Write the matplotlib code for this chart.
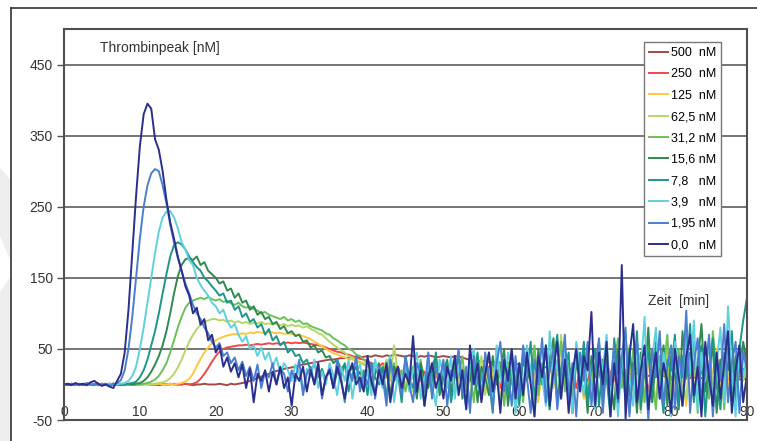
import numpy as np
import matplotlib
matplotlib.use('Agg')
import matplotlib.pyplot as plt
from matplotlib.lines import Line2D
from matplotlib.patches import Polygon

plt.rcParams['font.family'] = ['Liberation Sans', 'DejaVu Sans']
plt.rcParams['axes.unicode_minus'] = False

# sampling interval of the curves, minutes
time_step = 0.5

labels = ['500  nM', '250  nM', '125  nM', '62,5 nM', '31,2 nM',
          '15,6 nM', '7,8   nM', '3,9   nM', '1,95 nM', '0,0   nM']
colors = ['#a24a48', '#f04848', '#ffc640', '#b4d866', '#6cc05a',
          '#2e8a4e', '#1d968a', '#5fd0de', '#4a7ed0', '#2a2e8c']

# thrombin [nM], one value every 0.5 min from 0 to 90 min
n500 = [0, 0, 0, 1, 0, 0, -1, 0, 0, 1, 0, 0, 0, 1, 0, 0, -1, 0, 0, 1,
        0, 0, 1, 0, 0, -1, 0, 0, 1, 0, 0, 0, 1, 0, -1, 0, 0, 1, 0, 0,
        0, 1, 0, -1, 1, 0, 1, 2, 3, 5, 7, 9, 11, 13, 15, 17, 19, 20, 22, 23,
        24, 25, 27, 28, 29, 30, 31, 32, 33, 34, 35, 35, 36, 37, 37, 38, 38, 39, 38, 39,
        40, 39, 41, 40, 39, 41, 40, 42, 41, 40, 39, 41, 40, 38, 40, 39, 41, 40, 38, 39,
        40, 39, 38, 40, 39, 38, 36, 35, 33, 34, 32, 33, 31, 32, 30, 31, 29, 30, 28, 29,
        28, 27, 28, 26, 27, 25, 26, 24, 25, 23, 24, 22, 23, 22, 21, 22, 20, 21, 20, 19,
        20, 18, 19, 17, 18, 16, 17, 15, 16, 15, 14, 15, 13, 14, 12, 13, 12, 11, 12, 10,
        11, 10, 9, 10, 8, 9, 10, 8, 9, 7, 8, 9, 7, 8, 6, 7, 8, 6, 7, 8,
        7]
n250 = [0, 0, 1, 0, -1, 0, 0, 1, 0, 0, -1, 0, 1, 0, 0, 0, 1, 0, 0, -1,
        0, 1, 0, 0, -1, 0, 1, 0, 0, 1, 0, 0, 1, 0, 1, 3, 8, 15, 23, 32,
        40, 46, 50, 52, 53, 54, 55, 55, 56, 55, 56, 57, 56, 57, 58, 57, 58, 57, 58, 59,
        58, 59, 58, 59, 58, 57, 56, 55, 54, 52, 50, 48, 46, 45, 43, 42, 40, 38, 36, 35,
        33, 30, 28, 25, 30, 20, 22, 15, 25, 12, 18, 8, 20, 15, 5, 18, 10, 22, 12, 5,
        15, 20, 8, 18, 25, 5, 15, 10, 22, 0, 18, 12, 25, 5, 15, -5, 20, 10, 25, 8,
        18, 0, 22, 12, 30, 5, 15, -10, 25, 10, 20, 0, 28, 8, 15, -5, 22, 12, 5, 25,
        10, 20, -8, 25, 15, 5, 30, 10, 0, 20, 15, 28, 2, 18, -10, 25, 12, 8, 22, 15,
        5, 25, 15, -5, 20, 10, 30, 0, 18, 12, 25, 8, -5, 20, 15, 28, 5, 18, 10, 22,
        15]
n125 = [0, 0, 0, 1, 0, 0, -1, 0, 0, 1, 0, 0, 1, 0, 0, -1, 0, 0, 1, 0,
        0, 0, 1, 0, 0, 1, 0, 0, 1, 0, 1, 2, 4, 8, 15, 26, 36, 45, 52, 58,
        62, 65, 67, 69, 70, 71, 70, 72, 71, 73, 72, 74, 73, 72, 74, 73, 72, 73, 71, 72,
        71, 70, 70, 68, 66, 64, 60, 57, 54, 50, 47, 44, 42, 40, 38, 36, 35, 33, 32, 30,
        28, 25, 20, 15, 22, 10, 18, 5, 20, 12, 0, 15, 25, 5, 10, -5, 18, 8, 20, 0,
        10, 25, -5, 15, 5, 20, -10, 30, 10, 0, 15, 35, -15, 20, 5, 25, -20, 10, 30, 0,
        20, -10, 35, 5, 15, -25, 25, 10, 40, -5, 20, 0, 30, -15, 15, 45, 5, -20, 25, 10,
        -10, 30, 15, 40, -20, 20, 5, 35, -30, 25, 10, 45, 0, -25, 30, 15, 40, -10, 20, 5,
        30, -15, 45, 10, -30, 35, 20, 0, 40, -20, 25, 15, 50, -10, 30, 5, -25, 35, 20, 10,
        15]
n625 = [0, 0, 1, 0, 0, -1, 0, 1, 0, 0, 1, 0, -1, 0, 0, 1, 0, 0, 1, 0,
        0, 1, 0, 1, 1, 2, 3, 5, 9, 15, 24, 35, 48, 60, 70, 78, 84, 88, 90, 92,
        92, 90, 91, 88, 90, 87, 89, 86, 88, 85, 87, 86, 88, 85, 86, 84, 86, 83, 85, 82,
        84, 82, 83, 80, 82, 78, 76, 72, 70, 65, 60, 56, 52, 48, 45, 40, 38, 35, 30, 28,
        25, 18, 30, 10, 20, 35, 5, 55, 15, 0, 25, 10, -10, 30, 15, 5, 20, -15, 25, 10,
        0, 20, 35, -10, 15, 25, 5, -20, 30, 10, 40, -15, 20, 5, 35, -25, 15, 25, 0, 30,
        10, -20, 35, 15, 45, -10, 25, 0, 30, 50, -30, 70, 10, 20, -15, 40, 5, 25, -25, 35,
        15, 50, -20, 30, 10, -35, 45, 20, 0, 55, -10, 30, -40, 25, 45, 5, -20, 35, 15, 50,
        -30, 25, 40, 5, -20, 45, 15, 30, -35, 20, 55, 0, 25, -25, 40, 10, 30, -15, 50, 5,
        25]
n312 = [0, 1, 0, 0, -1, 0, 1, 0, -1, 0, 1, 0, 0, 1, -1, 0, 1, 0, 0, 1,
        0, 1, 2, 4, 7, 12, 20, 30, 45, 62, 80, 95, 108, 115, 118, 120, 122, 120, 123, 120,
        118, 120, 116, 118, 114, 112, 115, 110, 108, 110, 106, 104, 100, 102, 98, 96, 94, 92, 95, 90,
        92, 88, 90, 85, 86, 82, 80, 78, 76, 72, 70, 65, 62, 58, 55, 50, 48, 42, 40, 35,
        30, 28, 22, 15, 25, 10, 18, 30, 5, 20, -10, 15, 25, 0, 35, -15, 20, 10, 30, -5,
        15, 25, -20, 30, 10, 40, -10, 20, -25, 35, 5, 25, 45, -15, 10, 30, -30, 20, 50, 0,
        25, -25, 40, 10, 55, -15, 30, 5, -35, 45, 20, 60, -10, 30, -40, 40, 15, 50, -20, 25,
        -30, 45, 10, 55, -20, 30, 65, -5, 20, -40, 50, 15, 35, -25, 60, 5, -35, 40, 20, 70,
        -15, 35, 50, -30, 25, 10, 60, -40, 45, 20, -20, 75, 10, 35, -35, 50, 15, -25, 40, 55,
        20]
n156 = [0, 0, 1, 0, -1, 0, 1, 0, 0, -1, 1, 0, 0, 1, 0, -1, 0, 1, 0, 1,
        2, 5, 10, 18, 28, 40, 55, 75, 100, 128, 152, 168, 176, 178, 175, 180, 168, 172, 160, 155,
        150, 142, 145, 132, 135, 122, 128, 115, 118, 105, 110, 98, 102, 92, 95, 85, 88, 78, 82, 72,
        75, 68, 70, 60, 62, 52, 55, 45, 48, 38, 40, 30, 35, 22, 28, 15, 25, 8, 18, 5,
        20, -5, 15, 30, 0, 20, -15, 25, 10, -10, 35, 5, 15, -20, 30, 10, -5, 25, 40, -15,
        10, 30, -10, 20, 45, -20, 15, 5, 35, -25, 25, 10, -15, 40, 0, 20, 50, -30, 15, 30,
        -20, 40, 5, 25, -35, 50, 10, -10, 35, 65, -25, 20, 45, 0, -30, 55, 15, 30, -40, 40,
        10, 60, -20, 35, 5, -35, 50, 20, 70, -15, 30, -40, 45, 10, 80, -25, 35, 0, 55, -30,
        40, 15, -35, 75, 10, 45, -20, 30, 85, -10, 20, 55, -40, 35, 10, 65, -25, 40, 15, 60,
        30]
n78 = [0, -1, 0, 1, 0, -1, 1, 0, 0, 1, -1, 0, 1, 0, -1, 1, 0, 1, 2, 4,
       10, 20, 35, 55, 75, 100, 128, 155, 180, 196, 200, 197, 190, 180, 172, 165, 160, 150, 145, 138,
       132, 125, 128, 115, 118, 105, 110, 95, 100, 88, 92, 80, 85, 70, 78, 62, 68, 55, 60, 45,
       50, 40, 42, 30, 35, 20, 28, 10, 22, 5, 25, -5, 18, 10, 30, -10, 15, 25, 0, 20,
       -15, 30, 10, 0, 25, -20, 35, 5, 15, -25, 40, 10, -5, 30, 20, -30, 25, 0, 45, -10,
       20, 35, -25, 10, 40, 0, -30, 25, 15, 45, -20, 30, 5, -40, 50, 10, 25, -15, 35, 0,
       -30, 45, 15, 60, -20, 25, 0, 55, -35, 30, 70, -10, 20, 45, -40, 35, 5, 60, -25, 20,
       50, -30, 35, 10, -45, 65, 15, 30, -20, 50, 0, 75, -35, 25, 45, -15, 60, 5, -40, 35,
       20, 70, -30, 40, 10, 85, -25, 30, 55, -45, 25, 65, 0, -35, 45, 20, 75, -30, 50, 90,
       122]
n39 = [0, 1, 0, -1, 0, 1, 0, 1, -1, 0, 1, 0, 1, -1, 0, 1, 2, 5, 12, 25,
       50, 80, 115, 150, 185, 215, 235, 243, 244, 235, 220, 200, 190, 175, 168, 150, 140, 132, 125, 115,
       110, 100, 105, 90, 80, 85, 70, 60, 68, 50, 55, 40, 52, 35, 45, 25, 38, 15, 30, 20,
       5, 28, 15, -10, 22, 10, 35, -5, 18, 0, 30, 12, -15, 25, 5, 35, -20, 15, 28, 0,
       20, -15, 35, 10, -5, 25, 40, -25, 15, 5, 30, -10, 20, 45, -20, 10, 25, 0, -30, 35,
       15, -5, 40, -20, 25, 10, -35, 30, 50, 0, -15, 35, 15, -25, 55, 10, -10, 45, 20, -40,
       30, -5, 55, 20, -45, 40, 10, -30, 75, 0, 35, -20, 50, 15, -40, 60, 25, -15, 45, 5,
       -35, 50, 20, 70, -25, 40, -45, 30, 65, 10, -30, 55, 20, 95, -40, 35, 80, -20, 45, 10,
       -45, 60, 25, -30, 70, 15, 90, -35, 45, 5, 65, -40, 30, 80, -25, 110, 20, -45, 55, 10,
       40]
n195 = [0, 0, 1, -1, 1, 0, 2, 0, -1, 1, 0, 1, -2, 0, 2, 6, 20, 50, 95, 150,
        205, 250, 280, 297, 303, 300, 280, 255, 225, 200, 178, 160, 142, 128, 112, 100, 92, 80, 72, 60,
        52, 58, 40, 45, 30, 38, 20, 32, 12, 25, 5, 28, -5, 18, 10, 30, 0, 22, 15, -10,
        20, 5, 35, -15, 15, 25, 0, 30, -20, 10, 22, -5, 35, 10, -25, 20, 5, 40, -10, 15,
        0, 30, -20, 25, 10, -30, 35, 5, 20, -15, 40, 0, -25, 30, 15, -10, 45, -20, 25, 5,
        35, -30, 20, 10, 50, -15, 25, -40, 40, 5, -20, 45, 10, -35, 30, 60, -10, 20, -30, 40,
        -15, 55, 10, -40, 35, 0, 65, -25, 20, 50, -35, 15, 70, -20, 30, -45, 45, 5, 60, -30,
        25, 65, -40, 30, 0, 55, -25, 40, 80, -45, 20, 60, -15, 35, -50, 50, 10, 75, -30, 25,
        55, -35, 40, 10, 104, -40, 30, 65, -20, 15, 70, -45, 40, 5, 85, -25, 30, 60, -40, 45,
        20]
n00 = [0, 1, -1, 2, 0, 1, -1, 3, 5, 1, -2, 0, -3, -5, 5, 15, 45, 105, 185, 265,
       335, 380, 395, 388, 345, 330, 300, 260, 228, 205, 180, 160, 138, 125, 100, 108, 84, 92, 62, 70,
       45, 55, 25, 38, 18, 30, 10, 28, -5, 22, -25, 15, 5, 20, -10, 18, 0, 25, -5, 10,
       -30, 15, 5, 25, -10, 20, 0, 30, -15, 10, 20, -5, 25, 5, -20, 15, 30, 0, 10, -10,
       40, 5, -15, 20, 0, 30, -25, 10, 25, -5, 15, 0, 68, -10, 20, -30, 10, 30, -5, 15,
       -20, 25, 5, 40, -15, 20, -35, 55, 0, 30, -25, 15, 45, -10, 20, -40, 35, 5, 50, -20,
       30, -15, 45, 0, -45, 40, 10, 55, -30, 20, 60, -20, 35, -40, 15, 50, -10, 40, 20, 102,
       -30, 45, 0, 60, -45, 30, -20, 168, -48, 40, 85, -25, 20, 55, -35, 10, 45, -20, 30, 5,
       -40, 50, 10, -30, 40, 70, -15, 25, -45, 60, 10, -30, 45, -20, 30, 75, -40, 20, 55, -25,
       15]

series = [n500, n250, n125, n625, n312, n156, n78, n39, n195, n00]

x_ticks = [0, 10, 20, 30, 40, 50, 60, 70, 80, 90]
y_ticks = [-50, 50, 150, 250, 350, 450]


def main():
    for name, y in zip(labels, series):
        if len(y) != 181:
            raise ValueError('%s has %d points' % (name, len(y)))

    W, H = 757, 441
    fig = plt.figure(figsize=(W / 100, H / 100), dpi=100)

    # faint grey shapes at the left edge of the page
    for pts in ([(0, 168), (11, 180), (11, 262), (0, 236)],
                [(0, 292), (11, 276), (11, 441), (0, 441)]):
        fig.add_artist(Polygon([(x / W, 1 - y / H) for x, y in pts],
                               closed=True, transform=fig.transFigure,
                               facecolor='#eeeeee', edgecolor='none'))

    ax = fig.add_axes([0.0845, 0.0476, 0.9023, 0.8866])

    for name, color, y in zip(labels, colors, series):
        t = np.arange(len(y)) * time_step
        ax.plot(t, y, color=color, lw=1.4, label=name)

    ax.set_xlim(0, 90)
    ax.set_ylim(-50, 500)
    ax.set_xticks(x_ticks)
    ax.set_yticks(y_ticks)
    ax.set_axisbelow(True)
    ax.yaxis.grid(True, color='#505050', lw=1.1)

    ax.tick_params(axis='y', length=5, width=1, color='#505050',
                   labelsize=10, labelcolor='#333333', pad=3)
    ax.tick_params(axis='x', length=0, pad=-11, labelsize=10,
                   labelcolor='#333333')
    for side in ['left', 'right', 'top', 'bottom']:
        ax.spines[side].set_color('#505050')
        ax.spines[side].set_linewidth(1.5)

    ax.text(4.7, 473, 'Thrombinpeak [nM]', va='center', fontsize=10,
            color='#333333')
    ax.text(76.9, 118, 'Zeit  [min]', va='center', fontsize=10,
            color='#333333')

    leg = ax.legend(loc='upper right', bbox_to_anchor=(0.962, 0.967),
                    borderaxespad=0, fancybox=False, edgecolor='#777777',
                    framealpha=1, fontsize=9, handlelength=1.55,
                    handletextpad=0.2, labelspacing=0.75, borderpad=0.4)
    leg.get_frame().set_linewidth(1.0)
    for line in leg.get_lines():
        line.set_linewidth(1.4)

    # outer chart frame
    fx = 11 / W
    fy = 1 - 8 / H
    fig.add_artist(Line2D([fx, 1], [fy, fy], transform=fig.transFigure,
                          color='#333333', lw=1.2))
    fig.add_artist(Line2D([fx, fx], [0, fy], transform=fig.transFigure,
                          color='#333333', lw=1.2))

    fig.savefig('out.png', dpi=100)


if __name__ == '__main__':
    main()
